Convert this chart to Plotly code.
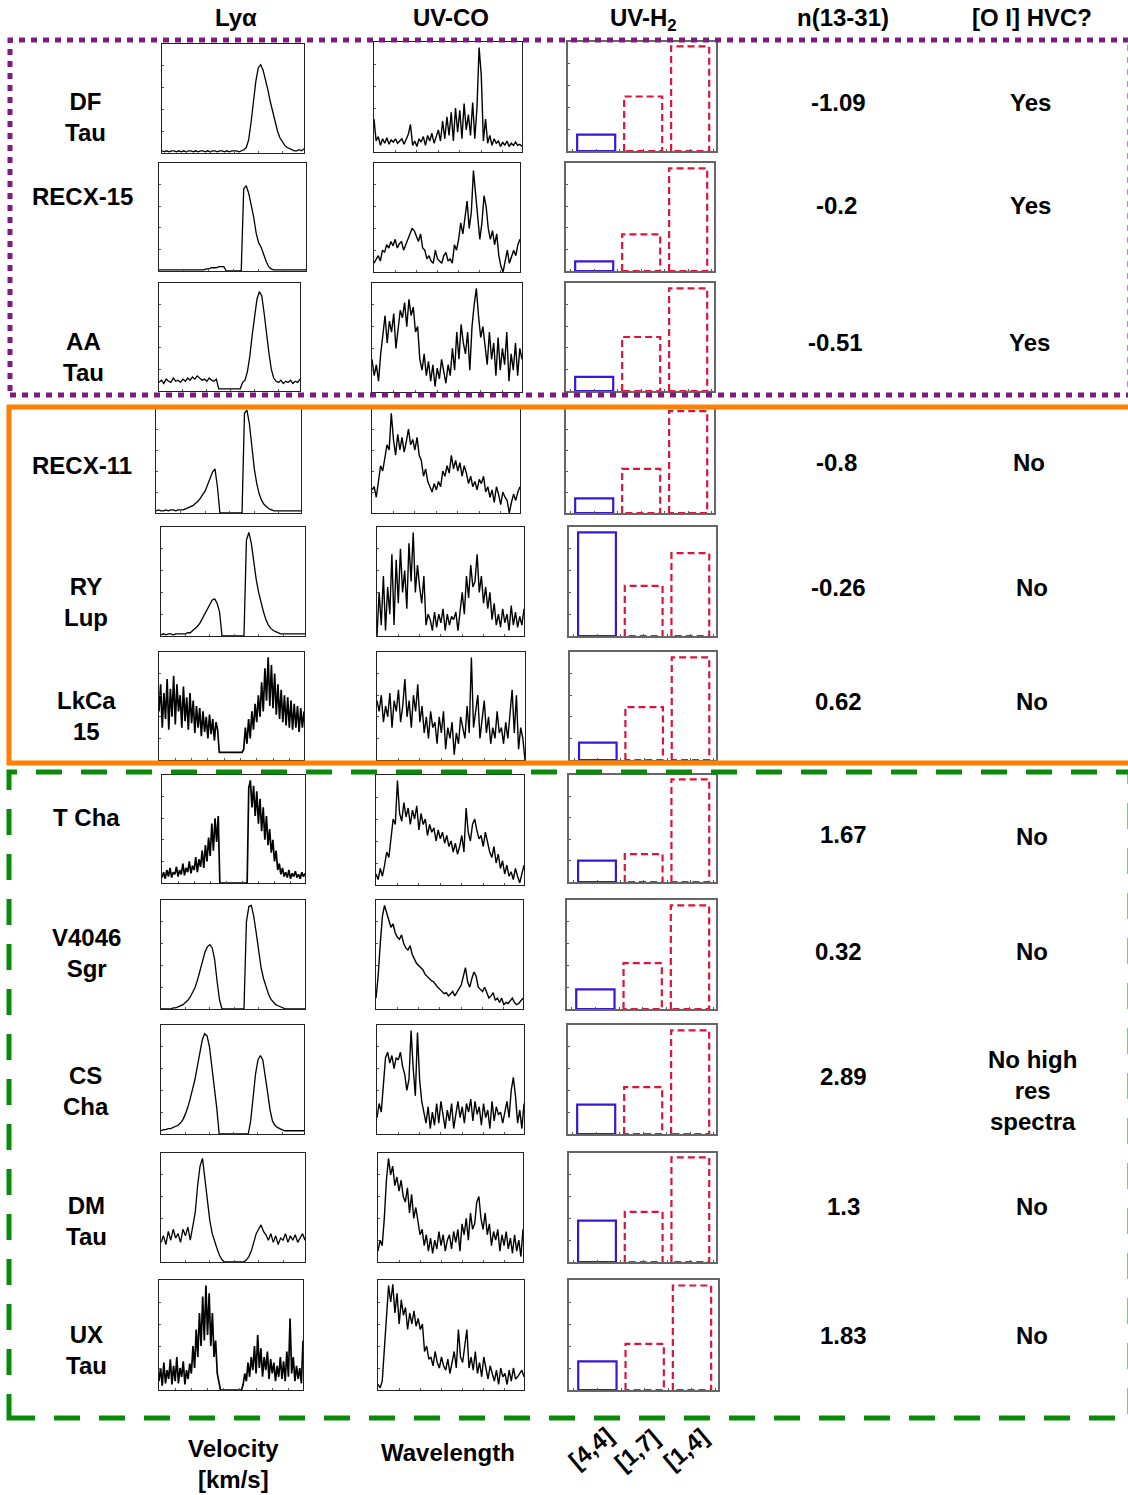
import plotly.graph_objects as go

W, H = 1128, 1495

# ---------------- data ----------------
names = ["DF<br>Tau", "RECX-15", "AA<br>Tau", "RECX-11", "RY<br>Lup", "LkCa<br>15",
         "T Cha", "V4046<br>Sgr", "CS<br>Cha", "DM<br>Tau", "UX<br>Tau"]
n_values = ["-1.09", "-0.2", "-0.51", "-0.8", "-0.26", "0.62",
            "1.67", "0.32", "2.89", "1.3", "1.83"]
hvc = ["Yes", "Yes", "Yes", "No", "No", "No", "No", "No",
       "No high<br>res<br>spectra", "No", "No"]
h2_labels = ["[4,4]", "[1,7]", "[1,4]"]
h2_values = [
    [0.15, 0.50, 0.96],
    [0.09, 0.34, 0.95],
    [0.13, 0.50, 0.95],
    [0.14, 0.42, 0.97],
    [0.95, 0.46, 0.76],
    [0.16, 0.49, 0.95],
    [0.20, 0.26, 0.96],
    [0.18, 0.42, 0.95],
    [0.27, 0.43, 0.95],
    [0.38, 0.46, 0.96],
    [0.26, 0.42, 0.95],
]

lya_df_tau = [2,1,2,1,2,2,1,2,1,2, 1,2,2,1,2,1,2,2,1,2, 1,2,2,1,2,2,1,2,1,2,
              2,2,1,2,3,5,12,28,48,66, 78,81,76,68,58,47,37,28,20,14, 10,7,5,4,3,2,2,3,2,4]
lya_recx15 = [1,1,1,1,1,1,1,1,1,1, 1,1,1,1,1,1,1,1,1,2, 2,3,3,3,4,4,4,0,0,0,
              0,0,0,0,76,79,72,62,50,35, 26,22,15,9,4,2,1,1,1,1, 1,1,1,1,1,1,1,1,1,1]
lya_aa_tau = [8,10,7,11,9,8,12,9,10,8, 11,9,12,10,13,11,14,12,10,11, 9,12,10,9,11,2,2,2,2,2,
              2,2,2,2,2,8,10,18,32,52, 70,85,92,88,72,52,35,20,12,9, 8,10,7,9,8,10,7,9,8,11]
lya_recx11 = [2,3,2,2,3,2,3,3,2,3, 3,3,4,5,6,7,9,11,14,17, 21,27,33,39,42,25,0,0,0,0,
              0,0,0,0,0,0,95,98,85,62, 42,28,18,12,8,6,4,3,2,2, 2,2,2,2,2,2,2,2,2,2]
lya_ry_lup = [1,2,1,2,2,1,2,2,2,2, 2,3,3,5,7,9,12,16,20,25, 29,33,34,30,22,0,0,0,0,0,
              0,0,0,0,0,88,95,85,68,52, 40,30,22,15,10,7,5,4,3,2, 2,2,2,2,2,2,2,2,2,2]
lya_lkca15 = [45,70,30,62,38,75,28,66,40,78, 33,70,45,60,30,68,36,58,28,62, 34,55,25,50,30,48,22,45,26,40,
              20,42,24,38,18,35,28,
              7,7,7,7,7,7,7,7,7,7,7,7,7,7,7,
              10,30,15,38,20,45,28,52,35,60, 40,72,45,85,55,95,50,88,48,80, 42,70,38,65,35,60,32,58,30,55,
              28,52,30,50,26,48,30,45]
lya_t_cha = [5,10,4,12,6,14,5,10,8,15, 6,12,8,18,7,14,10,20,9,16, 12,24,10,22,15,30,14,35,20,42,
             25,55,30,60,38,62,
             0,0,0,0,0,0,0,0,0,0,0,0,0,0,0,0,0,0,
             88,95,70,90,62,85,55,78,48,70, 40,62,35,50,28,40,20,30,12,18, 8,14,6,10,5,12,4,9,6,11,
             5,8,4,10,6,9]
lya_v4046 = [0,0,0,0,0,1,1,2,3,4, 6,8,11,15,20,27,35,44,52,57, 59,56,45,25,8,0,0,0,0,0,
             0,0,0,0,0,80,94,95,85,70, 52,38,28,20,14,9,6,4,3,2, 1,0,0,0,0,0,0,0,0,0]
lya_cs_cha = [3,4,4,5,5,6,7,8,10,13, 18,24,32,40,50,62,76,86,92,90, 80,62,42,24,0,0,0,0,0,0,
              0,0,0,0,0,0,0,12,35,55, 68,72,68,55,38,22,12,8,6,5, 4,3,3,3,3,3,3,3,3,3]
lya_dm_tau = [18,24,16,28,20,30,22,26,18,30, 24,32,20,34,45,70,88,95,75,55, 38,26,18,12,6,2,0,0,0,0,
              0,0,0,0,0,2,5,10,18,26, 30,34,28,25,20,26,18,24,16,22, 20,26,18,24,20,25,18,22,26,20]
lya_ux_tau = [8,20,4,25,6,18,10,28,5,22, 8,30,6,20,12,26,5,18,10,24, 15,40,20,55,30,70,40,85,45,95,
              50,88,40,70,30,45,15,8,
              0,0,0,0,0,0,0,0,0,0,0,0,0,0,
              5,15,8,25,12,30,18,40,15,50, 20,38,12,30,18,35,10,28,15,25, 8,22,12,30,10,26,8,35,12,65,
              15,30,8,22,10,20,6,45]

co_df_tau = [30,10,14,6,12,8,13,7,11,9, 12,8,10,12,7,11,16,25,6,10, 5,12,9,14,6,15,10,17,8,14,
             20,10,28,12,32,15,36,10,40,18, 38,12,44,20,34,15,45,12,40,95, 70,10,30,8,15,6,12,8,10,5,
             9,6,10,5,8,6,9,6,7,5]
co_recx15 = [8,12,15,10,20,18,25,22,28,24, 30,22,26,28,20,25,30,35,40,38, 32,28,35,22,20,12,15,10,8,20,
             12,10,8,15,18,10,12,8,25,20, 30,45,35,50,65,40,55,93,70,45, 30,45,70,60,40,30,38,25,35,15,
             5,0,12,20,8,15,20,15,25,30]
co_aa_tau = [30,15,25,10,35,50,70,45,65,55, 72,40,60,75,68,82,60,85,70,78, 55,60,30,20,35,15,28,10,25,5,
             22,12,30,18,8,25,15,40,20,55, 30,62,45,35,55,20,60,80,95,70, 50,60,40,25,55,30,45,15,50,20,
             40,25,55,10,35,20,45,15,40,30]
co_recx11 = [22,25,15,30,45,40,55,65,60,95, 70,55,75,60,72,58,68,80,65,70, 60,72,55,50,35,42,30,25,20,28,
             22,30,25,40,35,45,38,55,42,50, 40,48,35,45,38,28,35,25,30,22, 32,28,35,20,25,15,22,10,25,18,
             8,20,15,12,0,10,18,12,20,25]
co_ry_lup = [0,40,10,55,5,45,20,75,10,70, 30,80,40,60,25,85,50,95,40,65, 45,30,55,10,20,15,5,22,8,20,
             12,25,5,20,10,18,15,22,5,25, 40,20,55,35,65,45,50,75,40,55, 30,45,25,40,15,30,10,20,8,25,
             12,20,5,28,10,22,8,18,10,25]
co_lkca15 = [55,45,60,35,50,40,62,30,55,45, 65,35,50,75,40,55,30,60,45,70, 35,50,25,40,20,45,30,35,15,40,
             25,45,10,30,20,35,5,25,15,40, 30,20,50,25,95,30,45,60,20,35, 55,25,40,15,30,20,45,25,30,15,
             35,20,40,65,25,60,10,30,20,0]
co_t_cha = [10,5,15,8,18,30,25,40,60,55, 95,65,58,75,62,70,55,68,60,72, 50,65,55,60,45,55,48,52,40,50,
            42,48,38,45,35,40,30,38,28,35, 45,30,70,48,40,55,60,50,42,45, 35,48,40,30,25,35,20,28,15,22,
            10,18,8,12,5,15,8,2,10,18]
co_v4046 = [10,30,60,85,95,88,80,75,78,70, 66,64,68,60,56,54,58,50,46,42, 40,38,36,32,30,28,26,25,22,20,
            18,16,14,15,12,14,16,12,15,18, 22,30,38,25,20,28,34,30,20,18, 16,20,14,10,12,15,8,10,6,10,
            4,6,5,8,10,6,4,5,8,10]
co_cs_cha = [15,28,20,45,70,75,65,72,60,70, 68,75,62,55,40,50,95,60,35,93, 50,30,20,10,25,5,20,8,28,10,
             30,15,5,22,12,28,5,18,30,15, 25,10,28,20,32,12,30,18,25,8, 28,15,22,5,30,12,25,18,20,10,
             22,30,15,40,52,35,10,22,5,28]
co_dm_tau = [10,20,15,40,75,95,80,88,70,78, 65,75,60,55,68,45,62,40,50,35, 25,30,15,25,10,22,8,20,12,28,
             15,25,10,20,25,12,28,18,30,10, 35,25,40,20,45,30,35,55,60,40, 30,45,25,35,15,28,20,30,10,25,
             15,28,12,22,8,25,10,20,5,30]
co_ux_tau = [5,2,8,40,65,95,80,96,70,88, 60,82,68,75,55,70,60,72,58,65, 55,60,35,40,28,30,22,35,25,20,
             30,22,18,28,15,25,35,20,55,30, 25,40,55,20,30,18,35,15,25,12, 30,20,10,22,15,8,18,5,20,12,
             15,5,18,8,20,10,12,15,18,12]

lya_spectra = [lya_df_tau, lya_recx15, lya_aa_tau, lya_recx11, lya_ry_lup, lya_lkca15,
               lya_t_cha, lya_v4046, lya_cs_cha, lya_dm_tau, lya_ux_tau]
co_spectra = [co_df_tau, co_recx15, co_aa_tau, co_recx11, co_ry_lup, co_lkca15,
              co_t_cha, co_v4046, co_cs_cha, co_dm_tau, co_ux_tau]

# ---------------- layout (pixel boxes: x0, x1, y0, y1) ----------------
lya_boxes = [(162,304,44,153),(159,306,163,271),(159,300,283,391),(156,301,408,513),
             (161,305,527,636),(159,304,652,760),(162,305,775,883),(161,305,900,1009),
             (161,304,1025,1134),(161,305,1153,1262),(159,303,1280,1390)]
co_boxes = [(374,522,42,152),(374,520,163,272),(372,522,283,392),(372,520,408,513),
            (377,524,527,636),(377,525,652,760),(376,524,775,885),(376,523,900,1009),
            (377,524,1025,1134),(378,523,1153,1262),(378,524,1280,1390)]
h2_boxes = [(568,716,42,151),(566,714,163,271),(566,714,283,391),(566,714,408,513),
            (569,716,527,636),(570,716,652,760),(569,716,775,882),(567,716,900,1009),
            (568,716,1025,1134),(569,716,1153,1262),(569,718,1280,1390)]
name_pos = [(85,117),(82,197),(83,357),(82,465),(86,602),(86,716),(86,817),(86,953),
            (86,1091),(86,1221),(86,1350)]
n_pos = [(838,102),(836,205),(835,342),(836,462),(838,587),(838,701),(843,835),(838,952),
         (843,1076),(843,1206),(843,1335)]
hvc_pos = [(1030,102),(1030,205),(1029,342),(1029,462),(1032,587),(1032,701),(1032,836),
           (1032,952),(1032,1090),(1032,1206),(1032,1335)]
noisy_rows = [5, 6, 10]

FONT = "Liberation Sans, Arial, sans-serif"
BLUE = "#3a16d6"
RED = "#dc143c"

fig = go.Figure()
layout = {}
ax = [0]


def px_domain(box):
    x0, x1, y0, y1 = box
    return [x0 / W, x1 / W], [1 - y1 / H, 1 - y0 / H]


def add_axes(box, xr, yr, linecolor, lw):
    ax[0] += 1
    n = ax[0]
    xd, yd = px_domain(box)
    common = dict(showgrid=False, zeroline=False, showticklabels=False, showline=True,
                  mirror=True, linecolor=linecolor, linewidth=lw, ticks="inside",
                  ticklen=2, tickcolor="#555", tickwidth=0.6)
    layout["xaxis%d" % n] = dict(domain=xd, anchor="y%d" % n, range=xr, nticks=10, **common)
    layout["yaxis%d" % n] = dict(domain=yd, anchor="x%d" % n, range=yr, nticks=10, **common)
    return "x%d" % n, "y%d" % n


for i in range(11):
    s = lya_spectra[i]
    xa, ya = add_axes(lya_boxes[i], [0, len(s) - 1], [0, 100], "#222", 1.3)
    fig.add_trace(go.Scatter(y=s, mode="lines",
                             line=dict(color="black", width=1.7 if i in noisy_rows else 1.3),
                             xaxis=xa, yaxis=ya, showlegend=False, hoverinfo="skip"))
    c = co_spectra[i]
    xa, ya = add_axes(co_boxes[i], [0, len(c) - 1], [0, 100], "#222", 1.3)
    fig.add_trace(go.Scatter(y=c, mode="lines", line=dict(color="black", width=1.4),
                             xaxis=xa, yaxis=ya, showlegend=False, hoverinfo="skip"))
    xa, ya = add_axes(h2_boxes[i], [-0.6, 2.55], [0, 1.0], "#666", 2)
    for j, v in enumerate(h2_values[i]):
        hw = 0.405
        fig.add_trace(go.Scatter(
            x=[j - hw, j - hw, j + hw, j + hw, j - hw], y=[0, v, v, 0, 0], mode="lines",
            line=dict(color=BLUE if j == 0 else RED, width=2.2,
                      dash="solid" if j == 0 else "7px,4px"),
            xaxis=xa, yaxis=ya, showlegend=False, hoverinfo="skip", cliponaxis=False))

annotations = []


def txt(text, x, y, size=24, angle=0):
    annotations.append(dict(text=text, x=x / W, y=1 - y / H, xref="paper", yref="paper",
                            xanchor="center", yanchor="middle", showarrow=False,
                            textangle=angle,
                            font=dict(family=FONT, size=size, color="black", weight="bold")))


for t, (x, y) in zip(["Lyα", "UV-CO", "UV-H<sub>2</sub>", "n(13-31)", "[O I] HVC?"],
                     [(236, 18), (451, 18), (643, 20), (843, 18), (1032, 18)]):
    txt(t, x, y)
for i in range(11):
    txt(names[i], *name_pos[i])
    txt(n_values[i], *n_pos[i])
    txt(hvc[i], *hvc_pos[i])
txt("Velocity<br>[km/s]", 233, 1464)
txt("Wavelength", 448, 1452)
for t, (x, y) in zip(h2_labels, [(590, 1448), (636, 1450), (685, 1449)]):
    txt(t, x, y, angle=-40)

shapes = [
    dict(type="rect", xref="paper", yref="paper", x0=10 / W, x1=1130 / W,
         y0=1 - 395 / H, y1=1 - 40 / H,
         line=dict(color="#7d1b7e", width=5, dash="6px,6px")),
    dict(type="rect", xref="paper", yref="paper", x0=9 / W, x1=1131 / W,
         y0=1 - 763 / H, y1=1 - 407 / H,
         line=dict(color="#ff7f00", width=5)),
    dict(type="rect", xref="paper", yref="paper", x0=9 / W, x1=1130 / W,
         y0=1 - 1418 / H, y1=1 - 772 / H,
         line=dict(color="#0a8a0a", width=5, dash="26px,19px")),
]

fig.update_layout(width=W, height=H, margin=dict(l=0, r=0, t=0, b=0),
                  paper_bgcolor="white", plot_bgcolor="white",
                  annotations=annotations, shapes=shapes, **layout)
fig.write_html("out.html")
